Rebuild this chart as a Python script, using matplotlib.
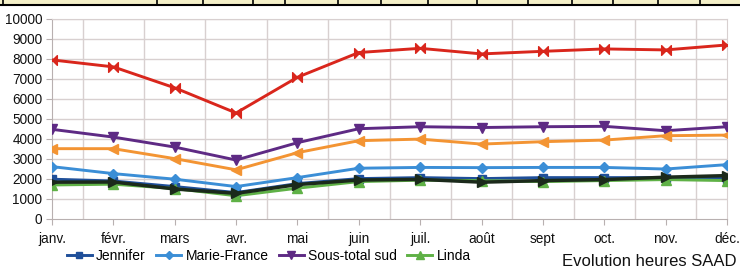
import numpy as np
import matplotlib
matplotlib.use('Agg')
import matplotlib.pyplot as plt
from matplotlib.path import Path
from matplotlib.lines import Line2D

# Données (heures par mois)
mois = ['janv.', 'févr.', 'mars', 'avr.', 'mai', 'juin',
        'juil.', 'août', 'sept', 'oct.', 'nov.', 'déc.']
jennifer = [1970, 1880, 1600, 1300, 1750, 2000, 2050, 2000, 2050, 2050, 2050, 2000]
marie_france = [2600, 2250, 1970, 1600, 2050, 2520, 2560, 2550, 2560, 2560, 2480, 2700]
sous_total_sud = [4470, 4080, 3580, 2930, 3800, 4500, 4600, 4560, 4600, 4620, 4400, 4600]
linda = [1680, 1720, 1500, 1140, 1520, 1850, 1920, 1900, 1850, 1900, 1950, 1900]
serie_orange = [3500, 3500, 3000, 2440, 3300, 3900, 3980, 3730, 3850, 3930, 4150, 4180]
serie_noire = [1820, 1830, 1480, 1260, 1700, 1930, 1960, 1820, 1900, 1950, 2070, 2150]
serie_rouge = [7950, 7600, 6550, 5290, 7080, 8320, 8530, 8250, 8380, 8500, 8450, 8700]

# Marqueur "noeud papillon" pour la série rouge
bowtie = Path([(-1, -1), (0, 0), (-1, 1), (-1, -1),
               (1, -1), (0, 0), (1, 1), (1, -1)],
              [Path.MOVETO, Path.LINETO, Path.LINETO, Path.CLOSEPOLY,
               Path.MOVETO, Path.LINETO, Path.LINETO, Path.CLOSEPOLY])

police = ['Liberation Sans', 'DejaVu Sans']

fig = plt.figure(figsize=(7.4, 2.7), dpi=100)
ax = fig.add_axes([52 / 740, 1 - 218.5 / 270, 675 / 740, 199.5 / 270])

x = np.arange(len(mois))
lw = 2.1
ax.plot(x, jennifer, color='#1f4f99', lw=lw, marker='s', ms=6, label='Jennifer', zorder=3)
ax.plot(x, marie_france, color='#3b8ed6', lw=lw, marker='D', ms=5, label='Marie-France', zorder=3)
ax.plot(x, sous_total_sud, color='#5e2a84', lw=lw, marker='v', ms=7, label='Sous-total sud', zorder=3)
ax.plot(x, linda, color='#5fb146', lw=lw, marker='^', ms=7, label='Linda', zorder=3)
ax.plot(x, serie_orange, color='#f39433', lw=lw, marker='<', ms=7, zorder=3)
ax.plot(x, serie_noire, color='#1b2a1b', lw=lw + 0.4, marker='>', ms=7, zorder=3)
ax.plot(x, serie_rouge, color='#d9261c', lw=lw, marker=bowtie, ms=7, zorder=3)

ax.set_xlim(0, 11)
ax.set_ylim(0, 10000)
ax.set_yticks(np.arange(0, 10001, 1000))
ax.set_xticks(x)
ax.set_xticklabels(mois, family=police, fontsize=9.8)
for lab in ax.get_yticklabels():
    lab.set_family(police)
    lab.set_fontsize(9.8)

# Quadrillage : horizontales aux milliers, verticales entre les mois
grid_col = '#d8d0d0'
for v in np.arange(1000, 10001, 1000):
    ax.axhline(v, color=grid_col, lw=1, zorder=1)
for v in np.arange(0.5, 11, 1):
    ax.axvline(v, color=grid_col, lw=1, zorder=1)
for s in ['top', 'right']:
    ax.spines[s].set_color(grid_col)
for s in ['left', 'bottom']:
    ax.spines[s].set_color('#b8b0b0')
ax.tick_params(axis='both', length=4, color='#b8b0b0', pad=3, labelcolor='#111111')
ax.tick_params(axis='x', pad=6)

handles = [Line2D([], [], color='#1f4f99', lw=lw, marker='s', ms=5),
           Line2D([], [], color='#3b8ed6', lw=lw, marker='D', ms=4),
           Line2D([], [], color='#5e2a84', lw=lw, marker='v', ms=6),
           Line2D([], [], color='#5fb146', lw=lw, marker='^', ms=6)]
fig.legend(handles, ['Jennifer', 'Marie-France', 'Sous-total sud', 'Linda'],
           loc='center left', bbox_to_anchor=(60 / 740, 1 - 256 / 270), ncol=4,
           frameon=False, prop={'family': police, 'size': 10},
           handlelength=1.8, handletextpad=0.3, columnspacing=0.75, borderpad=0)

fig.text(737 / 740, 1 - 262 / 270, 'Evolution heures SAAD', ha='right', va='center',
         family=police, fontsize=12, color='#111111')

# Bandeau du tableau coupé en haut de l'image
fig.add_artist(plt.Rectangle((0, 1 - 5 / 270), 1, 5 / 270, transform=fig.transFigure,
                             facecolor='#f4f0c8', edgecolor='none'))
fig.add_artist(Line2D([0, 1], [1 - 5 / 270] * 2, transform=fig.transFigure,
                      color='black', lw=1.5))
for xd in [3, 157, 203, 253, 285, 338, 381, 428, 477, 528, 572, 613, 658, 700]:
    fig.add_artist(Line2D([xd / 740] * 2, [1 - 5 / 270, 1], transform=fig.transFigure,
                          color='black', lw=1.2))

fig.savefig('out.png', dpi=100)
